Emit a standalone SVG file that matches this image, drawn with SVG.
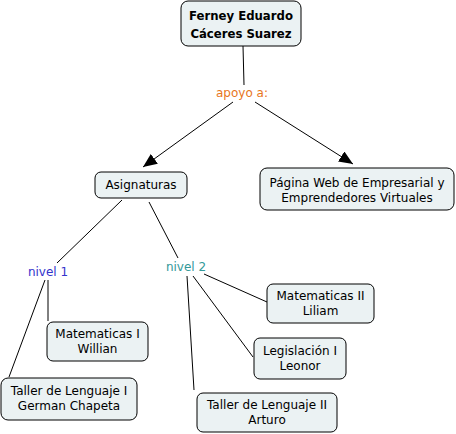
<svg xmlns="http://www.w3.org/2000/svg" width="456" height="434" viewBox="0 0 456 434">
<defs>
<style>
.box{fill:#ebf2f3;stroke:#000;stroke-width:1}
.t{font-family:"DejaVu Sans","Liberation Sans",sans-serif;font-size:12px;fill:#000;text-anchor:middle}
.h{font-family:"DejaVu Sans Condensed","DejaVu Sans",sans-serif;font-size:13px;font-weight:bold;fill:#000;text-anchor:middle}
.c{stroke:#000;stroke-width:1;fill:none}
</style>
<marker id="arr" markerWidth="14" markerHeight="12" viewBox="0 0 14 12" refX="14" refY="6" orient="auto" markerUnits="userSpaceOnUse">
<path d="M0,0 L14,6 L0,12 Z" fill="#000"/>
</marker>
</defs>
<rect width="456" height="434" fill="#fff"/>
<g id="connectors">
<line class="c" x1="243" y1="46" x2="244" y2="85"/>
<line class="c" x1="233" y1="102" x2="143" y2="167" marker-end="url(#arr)"/>
<line class="c" x1="255" y1="102" x2="353" y2="164" marker-end="url(#arr)"/>
<line class="c" x1="122" y1="200" x2="57" y2="263"/>
<line class="c" x1="149" y1="202" x2="178" y2="258"/>
<line class="c" x1="45" y1="280" x2="9" y2="377"/>
<line class="c" x1="48" y1="280" x2="48" y2="321"/>
<line class="c" x1="187" y1="276" x2="194" y2="390"/>
<line class="c" x1="193" y1="276" x2="253" y2="357"/>
<line class="c" x1="204" y1="274" x2="267" y2="302"/>
</g>
<g id="n-ferney">
<rect class="box" x="181" y="1" width="120" height="45" rx="7"/>
<text class="h" x="241" y="20">Ferney Eduardo</text>
<text class="h" x="241" y="38">Cáceres Suarez</text>
</g>
<g id="l-apoyo">
<text class="t" x="242" y="97" style="fill:#e8761c">apoyo a:</text>
</g>
<g id="n-asignaturas">
<rect class="box" x="95" y="172" width="92" height="26" rx="6"/>
<text class="t" x="141" y="189">Asignaturas</text>
</g>
<g id="n-pagina">
<rect class="box" x="260" y="168" width="194" height="42" rx="7"/>
<text class="t" x="357" y="187">Página Web de Empresarial y</text>
<text class="t" x="357" y="202">Emprendedores Virtuales</text>
</g>
<g id="l-nivel1">
<text class="t" x="48" y="276" style="fill:#3333cc">nivel 1</text>
</g>
<g id="l-nivel2">
<text class="t" x="186" y="271" style="fill:#339999">nivel 2</text>
</g>
<g id="n-mat1">
<rect class="box" x="47" y="322" width="101" height="39" rx="6"/>
<text class="t" x="97.5" y="338">Matematicas I</text>
<text class="t" x="97.5" y="353">Willian</text>
</g>
<g id="n-taller1">
<rect class="box" x="1" y="378" width="136" height="42" rx="7"/>
<text class="t" x="69" y="395">Taller de Lenguaje I</text>
<text class="t" x="69" y="410">German Chapeta</text>
</g>
<g id="n-mat2">
<rect class="box" x="267" y="284" width="107" height="39" rx="6"/>
<text class="t" x="320.5" y="300">Matematicas II</text>
<text class="t" x="320.5" y="315">Liliam</text>
</g>
<g id="n-legis">
<rect class="box" x="254" y="338" width="92" height="41" rx="6"/>
<text class="t" x="300" y="355">Legislación I</text>
<text class="t" x="300" y="370">Leonor</text>
</g>
<g id="n-taller2">
<rect class="box" x="197" y="393" width="140" height="39" rx="6"/>
<text class="t" x="267" y="409">Taller de Lenguaje II</text>
<text class="t" x="267" y="424">Arturo</text>
</g>
</svg>
